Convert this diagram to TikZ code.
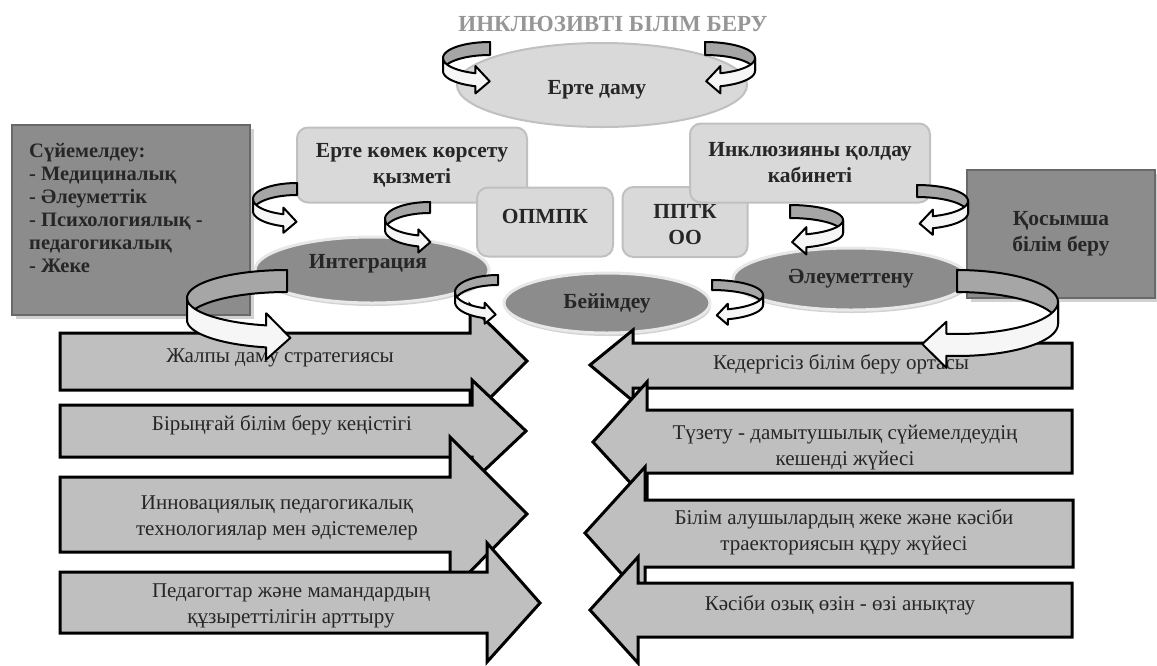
\documentclass[tikz,border=0pt]{standalone}
\usepackage{fontspec}
\setmainfont{Liberation Serif}
\usetikzlibrary{positioning}
\usetikzlibrary{shapes.geometric}
\usetikzlibrary{shadows}

\definecolor{lightfill}{RGB}{217,217,217}
\definecolor{lightline}{RGB}{192,192,192}
\definecolor{darkfill}{RGB}{140,140,140}
\definecolor{darkline}{RGB}{105,105,105}
\definecolor{rimline}{RGB}{232,232,232}
\definecolor{arrowfill}{RGB}{191,191,191}
\definecolor{curlgray}{RGB}{166,166,166}
\definecolor{curlwhite}{RGB}{246,246,246}
\definecolor{titlegray}{RGB}{150,150,150}
\definecolor{textdark}{RGB}{38,38,38}

\tikzset{
  curlback/.style={fill=curlgray, draw=black, line width=2pt, line join=round},
  curlfront/.style={fill=curlwhite, draw=black, line width=2pt, line join=round}
}

% 3D ring arrow: centre x, centre y, x radius, y radius, band, side (1 or -1), end angle
\newcommand{\curlarrow}[7]{%
  \begin{scope}[shift={(#1,#2)}, xscale=#6]
    \pgfmathsetmacro{\hdx}{#3*cos(#7)}
    \pgfmathsetmacro{\hdy}{-#4*sin(#7)}
    \pgfmathsetmacro{\tgx}{-#3*sin(#7)}
    \pgfmathsetmacro{\tgy}{-#4*cos(#7)}
    \pgfmathsetmacro{\tgl}{sqrt(\tgx*\tgx+\tgy*\tgy)}
    \pgfmathsetmacro{\hh}{0.55*#5}
    \pgfmathsetmacro{\tipx}{\hdx+1.1*#5*\tgx/\tgl}
    \pgfmathsetmacro{\tipy}{\hdy+#5/2+1.1*#5*\tgy/\tgl}
    \filldraw[curlback] plot[domain=90:180, samples=24] ({#3*cos(\x)},{-#4*sin(\x)})
      -- plot[domain=180:90, samples=24] ({#3*cos(\x)},{#5-#4*sin(\x)}) -- cycle;
    \filldraw[curlfront] plot[domain=180:#7, samples=24] ({#3*cos(\x)},{-#4*sin(\x)})
      -- ({\hdx},{\hdy-\hh}) -- ({\tipx},{\tipy}) -- ({\hdx},{\hdy+#5+\hh})
      -- plot[domain=#7:180, samples=24] ({#3*cos(\x)},{#5-#4*sin(\x)}) -- cycle;
  \end{scope}}

\begin{document}
\begin{tikzpicture}[x=1pt, y=-1pt,
  titletext/.style={font=\bfseries\fontsize{23}{27}\selectfont, text=titlegray},
  labeltext/.style={font=\bfseries\fontsize{21.5}{26}\selectfont, text=textdark, align=center},
  lightbox/.style={draw=lightline, fill=lightfill, line width=2pt, rounded corners=11pt, labeltext},
  lightell/.style={ellipse, draw=lightline, fill=lightfill, line width=2pt},
  darkbox/.style={draw=darkline, fill=darkfill, line width=2.5pt,
    drop shadow={shadow xshift=4pt, shadow yshift=-4pt, fill=black!30, opacity=0.6}},
  darkell/.style={ellipse, draw=rimline, fill=darkfill, line width=3pt,
    drop shadow={shadow xshift=1pt, shadow yshift=-3pt, fill=black!35, opacity=0.5}, labeltext},
  boxtext/.style={font=\bfseries\fontsize{20.5}{23}\selectfont, text=textdark, align=left, inner sep=0pt},
  bigarrow/.style={fill=arrowfill, draw=black, line width=3pt, line join=miter},
  arrowtext/.style={font=\fontsize{21}{26}\selectfont, text=textdark, align=center}]

\useasboundingbox (0,0) rectangle (1157,665);

\node[titletext] (title) at (613, 24) {ИНКЛЮЗИВТІ БІЛІМ БЕРУ};

\node[lightell, minimum width=290pt, minimum height=84pt] (early) at (602, 85) {};
\node[labeltext] (earlylabel) at (597, 90) {Ерте даму};

\node[lightbox, minimum width=230pt, minimum height=75pt] (help) at (412, 165) {Ерте көмек көрсету\\қызметі};
\node[lightbox, minimum width=136pt, minimum height=69pt] (opmpk) at (545, 222) {};
\node[labeltext] (opmpklabel) at (545, 216) {ОПМПК};
\node[lightbox, minimum width=125pt, minimum height=70pt] (pptk) at (685, 222) {};
\node[labeltext] (pptklabel) at (685, 225) {ППТК\\ОО};
\node[lightbox, minimum width=240pt, minimum height=79pt] (cabinet) at (810, 163) {Инклюзияны қолдау\\кабинеті};

\node[darkbox, minimum width=238pt, minimum height=190pt] (supbox) at (131, 220) {};
\node[boxtext, anchor=west] (suplabel) at (29, 208) {Сүйемелдеу:\\- Медициналық\\- Әлеуметтік\\- Психологиялық -\\педагогикалық\\- Жеке};
\node[darkbox, minimum width=188pt, minimum height=128pt, labeltext] (extra) at (1061, 234) {Қосымша\\білім беру};

\node[darkell, minimum width=234pt, minimum height=66pt] (integr) at (372, 270) {};
\node[labeltext] (integrlabel) at (368, 264) {Интеграция};
\node[darkell, minimum width=206pt, minimum height=60pt] (adapt) at (607, 303) {Бейімдеу};
\node[darkell, minimum width=236pt, minimum height=62pt] (social) at (851, 279) {Әлеуметтену};

% left arrows
\filldraw[bigarrow] (60,333) -- (470,333) -- (470,305) -- (527,361) -- (470,418) -- (470,390) -- (60,390) -- cycle;
\node[arrowtext] (strategy) at (280, 358) {Жалпы даму стратегиясы};
\filldraw[bigarrow] (60,405) -- (472,405) -- (472,380) -- (526,431) -- (472,482) -- (472,457) -- (60,457) -- cycle;
\node[arrowtext] (space) at (282, 425) {Бірыңғай білім беру кеңістігі};
\filldraw[bigarrow] (60,477) -- (450,477) -- (450,437) -- (527,514) -- (450,592) -- (450,552) -- (60,552) -- cycle;
\node[arrowtext] (technology) at (277, 518) {Инновациялық педагогикалық\\технологиялар мен әдістемелер};
\filldraw[bigarrow] (60,572) -- (487,572) -- (487,543) -- (540,603) -- (487,662) -- (487,633) -- (60,633) -- cycle;
\node[arrowtext] (competence) at (291, 606) {Педагогтар және мамандардың\\құзыреттілігін арттыру};

% right arrows
\filldraw[bigarrow] (1072,343) -- (633,343) -- (633,330) -- (590,365) -- (633,401) -- (633,388) -- (1072,388) -- cycle;
\node[arrowtext] (environment) at (841, 364) {Кедергісіз білім беру ортасы};
\filldraw[bigarrow] (1072,410) -- (647,410) -- (647,382) -- (593,442) -- (647,501) -- (647,473) -- (1072,473) -- cycle;
\node[arrowtext] (correction) at (845, 448) {Түзету - дамытушылық сүйемелдеудің\\кешенді жүйесі};
\filldraw[bigarrow] (1073,500) -- (645,500) -- (645,467) -- (585,533) -- (645,600) -- (645,567) -- (1073,567) -- cycle;
\node[arrowtext] (trajectory) at (844, 532) {Білім алушылардың жеке және кәсіби\\траекториясын құру жүйесі};
\filldraw[bigarrow] (1072,583) -- (638,583) -- (638,557) -- (590,610) -- (638,663) -- (638,637) -- (1072,637) -- cycle;
\node[arrowtext] (selfdef) at (840, 605) {Кәсіби озық өзін - өзі анықтау};

% ring arrows
\curlarrow{490}{58}{47}{16}{13}{1}{252}
\curlarrow{705}{58}{50}{16}{13}{-1}{252}
\curlarrow{297}{199}{44}{16}{12}{1}{252}
\curlarrow{430}{219}{45}{17}{11}{1}{255}
\curlarrow{287}{298}{100}{28}{22}{1}{258}
\curlarrow{498}{292}{43}{17}{10}{1}{252}
\curlarrow{712}{295}{51}{15}{10}{-1}{252}
\curlarrow{790}{220}{53}{15}{13}{-1}{252}
\curlarrow{917}{201}{51}{16}{12}{-1}{252}
\curlarrow{957}{302}{101}{32}{22}{-1}{276}

\end{tikzpicture}
\end{document}
